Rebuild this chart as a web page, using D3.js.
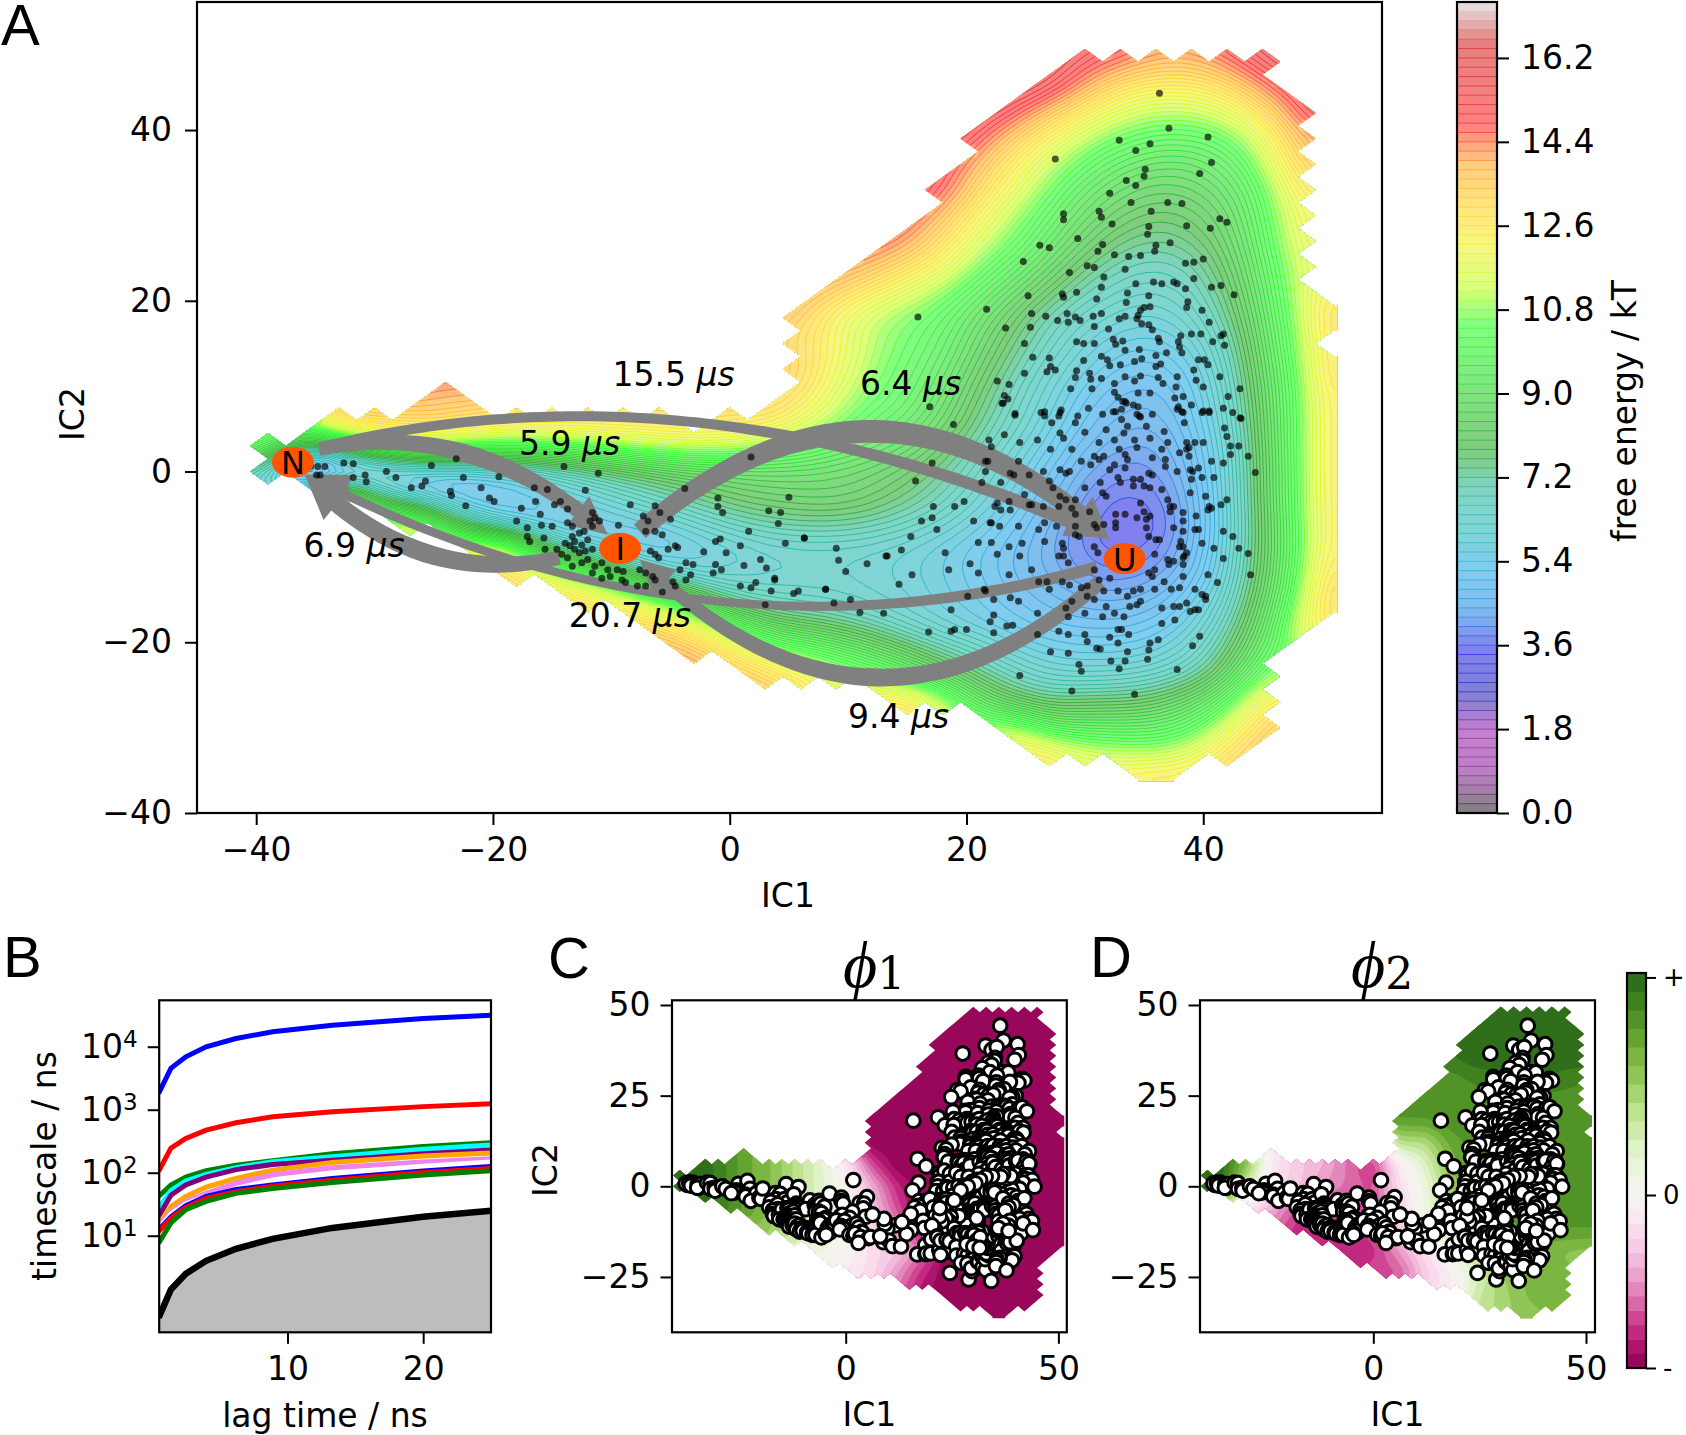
<!DOCTYPE html>
<html>
<head>
<meta charset="utf-8">
<script src="https://cdn.jsdelivr.net/npm/d3@7"></script>
<style>
  body { margin: 0; background: #fff; }
  text { font-family: "DejaVu Sans", sans-serif; fill: #000; }
  .axis path, .axis line { stroke: #000; stroke-width: 2; }
  .axis text { font-size: 33px; }
  .letter { font-family: "Liberation Sans", sans-serif; font-size: 58px; }
</style>
</head>
<body>
<svg id="fig" width="1686" height="1435"></svg>
<script>
// free energy (kT), 3 unit bins, rows from IC2=51 down to IC2=-36
const feStartX = [36,30,27,24,21,21,18,18,15,12,9,6,6,6,-24,-33,-39,-39,-33,-27,-21,-18,-12,-6,-3,3,15,24,27,36];
const feRows = [
  [],
  [15,14.7,14,14,14.6,15.5],
  [15.5,14.2,12.8,12.4,12.4,13,14.5],
  [15,13.6,12.5,11.4,11,11,11.5,12.8,15],
  [15,13.5,12.3,11,10.4,10,10,10.3,11.5,14],
  [14,12.5,11.2,10.2,9.4,9,9,9.6,10.8,13.5],
  [15,13.3,11.8,10.5,9.4,8.7,8.4,8.5,9,10.2,12.5],
  [14,12.2,11,9.9,8.8,8.2,7.8,8,8.6,10,12],
  [14.5,13,11.5,10.5,9.3,8.3,7.6,7.3,7.6,8.3,9.8,11.8],
  [14,13,12,10.6,9.6,8.6,7.6,7,6.8,7,8,9.5,11.5],
  [13.5,12.5,11.5,10.8,9.7,8.8,7.8,7,6.5,6.3,6.7,7.6,9.3,11.2],
  [13.5,12,11,10.6,10,9,8,7,6.4,6,5.9,6.3,7.3,9,11,13.5],
  [13,12.3,11,10.4,9.8,8.6,7.6,6.7,6,5.5,5.4,5.8,6.9,8.8,10.8],
  [13.5,12,10.8,10.2,9.4,8.2,7.2,6.3,5.6,5.1,5,5.4,6.6,8.6,10.5,13.5],
  [14,null,null,null,null,null,null,null,null,null,13,11.5,10.5,10,9,7.8,6.8,6,5.2,4.7,4.6,5.2,6.4,8.4,10.4,13],
  [13.5,13.5,13.5,13.5,13,13,13,13,13,13,null,13,13,12,10.8,10,9.6,8.6,7.5,6.6,5.8,4.9,4.5,4.4,5,6.2,8.3,10.4,13],
  [10.5,7,8.5,10,11,11,10.5,10.3,10.3,10.5,11,11.3,11.5,11.4,10.8,10.4,9.8,9.3,8.8,8,7,6.2,5.4,4.6,4.2,4.1,4.8,6,8.2,10.4,13],
  [6,1.5,3.2,4.2,4.8,4.9,5.2,5.8,6.4,7,7.5,8,8.3,8.5,8.7,8.7,8.6,8.4,8,7.4,6.6,5.8,5,4.2,3.8,3.9,4.6,5.9,8.1,10.4,13],
  [12,7.5,5.5,4.9,4.8,5,5.5,6,6.5,7,7.5,8,8.2,8.3,8.4,8.1,7.6,7,6.2,5.5,4.7,3.9,3.5,3.6,4.4,5.9,8.1,10.4,13],
  [12.5,8.5,6,5.1,5,5.1,5.4,5.8,6.3,6.8,7.2,7.4,7.4,7.2,6.8,6.3,5.7,5.1,4.4,3.7,3.2,3.4,4.3,5.8,8,10.3,13],
  [13,11,7,6,5.2,5,5.4,5.8,6.1,6.2,6.2,6.1,5.9,5.6,5.2,4.8,4.2,3.7,3.4,3.6,4.4,5.9,8,10.2,13],
  [13,11.5,10,8,6.5,5.8,5.9,6.1,6.2,6.2,6.1,5.9,5.6,5.2,4.8,4.3,3.9,3.8,4,4.7,6,8.1,10.3,13.5],
  [13,12,10.5,8.5,7,6.6,6.5,6.4,6.2,6,5.7,5.4,5,4.7,4.4,4.3,4.6,5.2,6.4,8.4,10.6,14],
  [13.5,12,10,8.5,8,7.6,7,6.4,5.9,5.6,5.3,5,4.9,4.9,5.1,5.7,6.9,8.8,11.5],
  [14,13,11,10.5,9.8,9,8,7.2,6.6,6,5.6,5.5,5.5,5.7,6.3,7.5,9.5],
  [13.5,12.5,11.5,10.8,9.8,8.6,7.6,6.8,6.3,6.2,6.3,6.5,7,8.2,10.8],
  [13,11.5,9,8,7.4,7.8,7.7,8,8.8,10,12.5],
  [11.5,9.5,9.5,9.5,9.5,10,11.5,13.5],
  [12.5,11.5,11.2,11,11.5,13],
  [13]
];

// eigenvector values x10, 6 unit bins, rows from IC2=54 down to IC2=-36, columns IC1=-42..54
const n = null;
const phi1Rows = [
  [n,n,n,n,n,n,n,n,n,-10,-10,-10,-10,-10,-10,-10,-10],
  [n,n,n,n,n,n,n,n,n,-10,-10,-10,-10,-10,-10,-10,-10],
  [n,n,n,n,n,n,n,n,n,-10,-10,-10,-10,-10,-10,-10,-10],
  [n,n,n,n,n,n,n,n,n,-10,-10,-10,-10,-10,-10,-10,-10],
  [n,n,n,n,n,n,n,n,n,-10,-10,-10,-10,-10,-10,-10,-10],
  [n,n,n,n,n,n,n,n,-10,-10,-10,-10,-10,-10,-10,-10,-10],
  [n,n,n,n,n,n,n,n,-10,-10,-10,-10,-10,-10,-10,-10,-10],
  [n,n,n,n,n,n,n,n,-10,-10,-10,-10,-10,-10,-10,-10,-10],
  [10,10,9,7,6,4,2,-1,-7,-10,-10,-10,-10,-10,-10,-10,-10],
  [10,10,9,7,6,4,2,0,-4,-8,-10,-10,-10,-10,-10,-10,-10],
  [10,10,9,7.5,6,4,2,0,-3,-7,-10,-10,-10,-10,-10,-10,-10],
  [n,n,n,n,5,3,2,0,-2,-5,-9,-10,-10,-10,-10,-10,-10],
  [n,n,n,n,n,n,1,0,-2,-3,-6,-10,-10,-10,-10,-10,-10],
  [n,n,n,n,n,n,n,-1,-2,-5,-8,-10,-10,-10,-10,-10,-10],
  [n,n,n,n,n,n,n,n,-3,-6,-9,-10,-10,-10,-10,-10,-10],
  [n,n,n,n,n,n,n,n,n,n,n,-10,-10,-10,-10,-10,-10]
];
const phi2Rows = [
  [n,n,n,n,n,n,n,n,n,10,10,10,10,10,10,10,10],
  [n,n,n,n,n,n,n,n,n,10,10,10,10,10,10,10,10],
  [n,n,n,n,n,n,n,n,n,10,10,10,10,10,10,10,10],
  [n,n,n,n,n,n,n,n,n,n,9,10,10,10,10,10,10],
  [n,n,n,n,n,n,n,n,n,8,8,8.5,9,9,9,8.5,8],
  [n,n,n,n,n,n,n,n,8,8,8,8,8,8,8,8,8],
  [n,n,n,n,n,n,n,n,7.5,7.5,8,8,8,8,8,8,8],
  [n,n,n,n,n,n,n,n,4,4,7,8,8,8,8,8,8],
  [10,10,6,-1,-3,-4,-6,-8,-1,2,6,8,8,8,8,8,8],
  [10,10,3,-2,-3,-5,-6,-7,-2,1,5,7,8,8,8,8,8],
  [n,n,-1,-4,-7,-7,-7,-7,-3,1,4,7,8,8,8,8,8],
  [n,n,n,n,-8,-8,-8,-7,-3,0,3,6,7,7.5,7.5,7.5,7.5],
  [n,n,n,n,n,n,-8,-8,-5,-2,1,4,6,6.5,6,5.5,5.5],
  [n,n,n,n,n,n,n,-7,-7,-3,-1,2,5,6,6,6,6],
  [n,n,n,n,n,n,n,n,n,-2,-1,3,4.5,6,6,6,6],
  [n,n,n,n,n,n,n,n,n,n,n,n,4.5,5.5,6,6,6]
];

// nipy_spectral control colours, seen through alpha 0.5
const spectralStops = [[0,0,0],[.4667,0,.5333],[.5333,0,.6],[0,0,.6667],[0,0,.8667],[0,.4667,.8667],[0,.6,.8667],
  [0,.6667,.6667],[0,.6667,.5333],[0,.6,0],[0,.7333,0],[0,.8667,0],[0,1,0],[.7333,1,0],[.9333,.9333,0],
  [1,.8,0],[1,.6,0],[1,0,0],[.8667,0,0],[.8,0,0],[.8,.8,.8]];
const feMax = 17.4;
const feStep = 0.2;
const feTicks = [0,1.8,3.6,5.4,7.2,9,10.8,12.6,14.4,16.2];

// metastable states (IC1, IC2)
const stateNames = ['N','I','U'];
const stateX = [-36.9,-9.25,33.36];
const stateY = [1.1,-9,-10.2];

// flux arrows: start, control, end in IC units, width along the arrow in px, head size in px
const fluxArrows = [
  {from:[-34.7,2.8], ctrl:[-2.5,13.7], to:[31.7,-7.7], w:[10,10,13], head:[36,16]},
  {from:[-34.7,2.6], ctrl:[-21.5,6.4], to:[-10.3,-7.4], w:[13,18,14], head:[38,18]},
  {from:[-7.6,-7], ctrl:[12.3,16.9], to:[32.1,-8], w:[18,23,18], head:[38,22]},
  {from:[-14.4,-10.1], ctrl:[-26.4,-13.8], to:[-35.9,-.35], w:[14,19,17], head:[42,21]},
  {from:[31,-11.2], ctrl:[-2.5,-24.2], to:[-35.9,-.35], w:[12,8,9], head:[42,21]},
  {from:[31.3,-12.9], ctrl:[11.8,-36.6], to:[-7.6,-10.3], w:[15,18,12], head:[34,17]}
];
const fluxLabels = ['15.5','6.4','5.9','6.9','20.7','9.4'];
const fluxLabelX = [-9.9,11,-17.8,-36,-13.6,10];
const fluxLabelY = [10,9,1.9,-10,-18.2,-30];

// cluster centres (IC1, IC2)
const centres = [
[36.3,44.3],[37.1,40.2],[40.4,39.2],[32.9,38.8],[34.3,37.6],[35.5,38.4],[27.5,36.6],[40.7,36.2],[35.1,35.4],[35,34.6],[33.5,34.1],[34.3,33.5],[39.7,34.9],[32.1,32.6],[33.9,31.5],[37,31.5],[38.2,31.4],[35.6,30.5],[28.2,30.2],[28.2,29.5],[31.2,30.5],[31.4,29.8],[32.3,29],[35.4,28.7],[41.4,29.6],[42,29.2],[40.6,28.5],[38.6,28.8],[35.3,27.8],[29.4,27.3],[31.5,26.6],[26.2,26.5],[27,26.2],[31.1,25.8],[37.2,26.8],[36,26.5],[35.9,25.8],[32.5,25.4],[33.7,25.2],[34.7,25.3],[24.8,24.6],[40,24.9],[39.2,24.5],[38.5,24.4],[30.2,24.1],[30.8,23.9],[33.4,23.7],[28.7,23.3],[31.6,22.8],[39.2,22.6],[34.3,22],[35.8,22.2],[36.5,22],[37.5,22.2],[37.8,22],[38.5,21.4],[31.4,21.6],[40.7,21.6],[41.5,21.8],[42.6,20.7],[29.3,21],[28.1,20.8],[28.2,20.4],[25.2,20.6],[31,20.2],[33.6,20.9],[35.4,20.6],[33.5,19.8],[38.7,19.9],[38.6,19.2],[35,19.2],[35.5,19.3],[34.7,18.9],[34.5,18.3],[39.9,18.9],[21.7,19],[15.9,18.1],[25.5,18.5],[26.7,18.2],[28.5,18.5],[29.2,18.1],[27.7,17.7],[28.6,17.5],[29.6,17.7],[30.7,18.2],[31.4,18.5],[32.9,17.9],[33.4,18.2],[34.4,17.9],[34.8,17.3],[40.5,17.5],[23.3,16.8],[25.4,16.9],[30.8,17],[32,16.7],[35.4,17.2],[35.7,16.6],[38.1,15.9],[39,16.1],[39.8,16.1],[41.5,15.9],[41.7,16.1],[36.2,15.6],[36.3,15.2],[37.9,15.2],[38,14.6],[40.8,15.2],[41.8,14.8],[24.9,15],[29.3,15.2],[29.9,15],[30.8,15],[32.4,15.5],[32.6,14.9],[33.2,15.3],[33.4,14.2],[34.6,14.3],[36,13.6],[36.9,13.9],[38.2,13.9],[25.6,13.4],[27,13.3],[29.9,13],[31.4,13.5],[31.9,13.1],[32.1,12.4],[34.2,12.9],[34.8,13.2],[39.6,13.1],[40.1,13.1],[40.4,12.5],[27.1,12.3],[27.5,11.9],[26.8,11.7],[24.9,11.5],[29.3,11.8],[30.4,11.5],[33,12.5],[36,12.3],[36.4,12.6],[39.2,11.9],[29.2,11],[30.5,10.8],[31.4,10.9],[32.5,10.3],[33.4,11.1],[34.2,10.6],[34.7,11.2],[36.2,11],[36.6,10.3],[37.8,11.1],[39.4,10.7],[41.4,11.1],[40,9.9],[37.7,9.9],[22.6,10.6],[23.6,10.2],[28.8,9.7],[30.6,9.7],[32.5,9.3],[34.5,9.2],[35.5,9.2],[43.1,9.7],[42.1,8.8],[23.5,8.5],[23.2,8.9],[23,8],[16.9,7.6],[24.1,6.6],[26.6,7],[28,7.2],[30.3,7.4],[32.8,8.7],[33.2,8.2],[33.5,8],[32.4,7],[34.5,7.6],[37.6,8.6],[38.3,8.8],[37.9,7.6],[39,7.8],[38.2,7],[39.9,6.9],[40.5,6.9],[41.7,7.4],[43.2,6.2],[34.7,6.4],
[18.9,5.5],[23.1,8],[24.1,6.8],[26.3,6.9],[26.6,6.5],[27.2,5.7],[27.9,6.9],[27.8,6.5],[29.4,6.5],[30,4.6],[27.9,4.5],[28.2,3.9],[29.2,5.7],[31.5,6.7],[32.6,7],[33.1,7.3],[33.4,8.2],[34.1,7.8],[35.7,6.7],[34.4,6.7],[33.1,6.1],[33.6,5.3],[31.8,4.9],[32.5,3.7],[33.3,4.5],[31.2,3.4],[34.2,3.7],[35.5,3.9],[34.6,6.5],[35.2,5.3],[36.7,4.7],[37.8,7.3],[38.3,6.9],[38.4,5.7],[40,7.1],[40.5,7.1],[42.5,6.9],[41.8,5.1],[42,4.1],[43.1,6.3],[38.6,3.4],[39.3,3.4],[40,3.4],[38.6,2.6],[38.8,1.8],[42.3,3],[43,3],[42.3,2],[43.8,1.8],[40.7,1.2],[41.7,1],[44.4,-.1],[21.9,3.7],[22.1,2.9],[23.2,4.3],[24.5,3.4],[21.6,1.2],[21.8,1.2],[21.6,0],[24.4,1.2],[26,3.7],[27.1,2.6],[28.9,2.6],[29.7,1.2],[30.8,1.8],[31.2,1.4],[32.5,.8],[33.4,2],[33.6,1.4],[32.1,.2],[33.4,.4],[35.7,1.6],[36.8,1.4],[36.8,.6],[35.4,-.2],[35.7,-.4],[37.8,0],[38.9,.2],[39.1,0],[39.6,.4],[39.9,-.7],[40.9,-.7],[39,-.9],[17.1,1],[15.7,-1.1],[21.3,-1.3],[22.9,-1.3],[23.7,-.2],[24,-.4],[25.3,-.4],[26.5,0],[24.9,-2.7],[27.9,.2],[28.4,-.2],[27.3,-1.9],[27.9,-2.9],[28.4,-3.3],[29.2,-3.3],[30,-1.9],[31.3,-1.3],[31.5,-2.5],[31.8,-2.9],[32.8,-.7],[33,-1.3],[34.1,-.9],[34.1,-1.7],[34.7,-.9],[35.5,-1.9],[36.5,-2.1],[38.9,-2.5],[40.2,-2.9],[40.5,-4.1],[40.4,-4.5],[40.7,-4.3],[41.5,-3.9],[42,-3.3],[17.2,-4.1],[19,-4.1],[19.8,-3.5],[22.6,-3.7],[22.4,-4.1],[22.9,-4.5],[23.6,-3.5],[23.7,-4.5],[25.3,-3.9],[26.5,-4.1],[27.8,-4.1],[17.1,-5.4],[16.2,-5.8],[17.5,-6.8],[20.6,-5.8],[22,-6],[22.8,-6.4],[24.4,-6.4],[26.1,-6.8],[26.6,-6],[27.6,-6.4],[28.9,-4.3],[29.2,-5],[29.2,-6.4],[29.2,-7.4],[29.5,-7.6],[30.4,-4.7],[30.8,-6.2],[31,-6.6],[31.6,-6.2],[32.6,-5],[33.4,-5],[32.6,-6],[32.6,-6.6],[34.4,-5.4],[35.5,-5.2],[34.7,-3.7],[35,-4.7],[35.2,-5.6],[35.2,-6.6],[35.4,-7.6],[37.2,-4.1],[37.2,-4.7],[37.5,-4.1],[38.3,-7],[39.6,-6.8],[39.3,-6.8],[38.1,-8.2],[38.3,-8.8],[36.3,-8],[36,-8],[41.7,-7],[42.5,-7.6],[43,-9],[39.9,-8.4],[40.9,-9],[43.8,-9.6],[28.1,-8.4],[28.2,-9],[27.8,-9.9],[28.2,-9.9],[28.6,-10.7],[26.6,-8.2],[24.7,-8.4],[24.5,-9.9],[23.6,-8.8],[23.6,-12.1],[25.5,-11.5],[22.6,-9.7],[21,-8.3],[22.1,-8.3],[21,-11.9],[18.2,-9.5],[18.5,-11.5],[20.3,-10.8],[14.5,-9.2],[13.3,-9.9],[11.6,-10.8],[9.8,-11.7],[9.2,-10.4],[9,-9],[6.3,-7.8],[15.3,-7.6],[15.4,-12.1],[14.3,-13.2],[8.1,-13.8],[8.8,-15.4],[10.2,-15],[11,-16.5],[13,-16.6],[18.7,-16.2],[16.8,-18.8],[18.7,-18.7],[19,-18.5],[20,-18.5],[22.3,-16.8],[22,-17.6],[23.4,-18.1],[23.9,-18],[22.3,-18.9],[20.1,-14.6],[21.5,-13.8],[21.6,-14],[22.3,-15],[23.7,-14.8],[24.4,-15.2],[26.1,-12.9],[26.8,-12.9],[27,-13.8],[28.1,-12.9],[26,-16.6],[26,-19.1],[28.6,-17],[28.7,-13.3],[29.7,-13.6],[28.9,-15.2],[30.2,-14.6],[27.8,-18.7],[28.6,-19.1],[30,-19.1],[30.2,-19.9],[27.1,-21.1],[28.6,-21.3],[24.5,-23.9],[28.9,-25.7],[29.7,-23.4],[29.5,-22.6],[31,-20.7],[31.3,-20.8],[32.2,-22.2],[33.4,-22.2],[33.6,-21.1],[32.9,-23.1],[34.2,-26.1],[32.1,-19.4],[32.8,-20.1],[33.7,-19.1],[32.8,-18.5],[33.1,-18.5],[33.3,-17],[32.5,-16.6],[31.8,-15.8],[33.8,-15.8],[34.4,-15.6],[34.7,-15.2],[32.8,-14],[33.6,-14.6],[34.1,-14],[34.7,-13.8],[35.9,-13.8],[35.4,-11.9],[35.7,-12.3],[35.9,-9.7],[37.1,-10.9],[37.5,-10.5],[38.4,-9.9],[38.3,-10.1],[38,-8.8],[36.7,-12.9],[37.3,-13.8],[38,-13.6],[39.3,-13.8],[40.2,-14.6],[39.9,-14.4],[39.3,-16.2],[39.6,-16.2],[38.9,-16.4],[36.5,-16],[37.5,-15.8],[37.6,-17.4],[36.5,-17.8],[39.7,-19.3],[39.1,-20.4],[36.2,-19.7],[35.5,-20.1],[35.4,-20.9],[35.3,-22],[37.8,-23.2],[40.4,-12.1],[41.2,-13],[41.7,-10.2],[44,-12.1],[32.1,-12.5],[30.8,-11.5],[31.1,-9.5],[30.8,-8.8],
[38,2.2],[38.8,2.8],[37,3.4],[36.5,2.6],[34.4,2.8],[32.9,2.6],[31.6,1.8],[30.5,.8],[28.7,0],[27,-1.1],[25.5,-3.9],[22.1,-6],[35,-1.7],[37,-3.3],[38.3,-4.8],[39.4,-5.2],[38.3,-5.8],[37.5,-6.6],[38.6,-9.5],[38.3,-10.9],[37,-10.3],[35.9,-11.5],[31.2,-12.7],[30.2,-13.4],[28.4,-16],[30.8,-15],[31.6,-14],[30,-16.6],[31.5,-17],[38,-15.8],[38.6,-15.4],[40.2,-15],[38.3,-12.3],
[-37.3,.4],[-37.6,.8],[-36.8,1],[-36,1],[-35.4,.6],[-36.4,.2],[-34.8,.6],[-34.2,.6],[-34.6,-.4],[-34.9,-.4],[-32.6,1],[-31.8,.9],[-31.8,-.7],[-30.8,-.4],[-30.7,-1.2],[-29,0],[-28.2,-.7],[-25.2,.7],[-23.1,1.5],[-25.7,-1.1],[-26,-1.7],[-26.9,-1.9],[-22.5,-.7],[-23.6,-2.3],[-23.5,-2.8],[-21,-1.9],[-22.3,-4],[-20.3,-3.1],[-19.9,-3.5],[-19.5,-.6],[-14,.6],[-11.1,-.2],[-16.5,-1.9],[-15.4,-2.1],[-16.4,-3.5],[-17.6,-4.3],[-18,-5.8],[-14.8,-3.9],[-14.3,-3.5],[-13.7,-4.4],[-12.2,-2.2],[-8.4,-3.9],[-16,-5],[-15.9,-6.3],[-17.1,-6.6],[-17.1,-7.6],[-16.9,-8.2],[-15.7,-7.8],[-15,-6.4],[-11.6,-4.8],[-11.4,-5.4],[-11.8,-5.8],[-11,-5.8],[-11.6,-6.4],[-13.7,-6],[-13.3,-6.4],[-9.4,-6.3],[-15.6,-9.1],[-14.6,-9.1],[-13.9,-8.4],[-13.3,-7.6],[-12.7,-7.2],[-12.3,-7],[-13.5,-8.7],[-13.1,-8.2],[-12.5,-8.6],[-12,-8],[-14.2,-9.7],[-13.7,-10.1],[-13.1,-9.1],[-12.7,-9.5],[-12.2,-9.3],[-11.6,-9.1],[-13.3,-11.1],[-12.5,-10.7],[-12,-10.3],[-11.4,-11.1],[-10.8,-10.7],[-11.6,-11.9],[-10.8,-12.5],[-10.3,-11.5],[-9.5,-11.5],[-9,-11.7],[-10.1,-12.3],[-9.1,-12.7],[-8.8,-13],[-7.8,-13.4],[-7.6,-11.5],[-7.1,-11.9],[-6.5,-12.3],[-6.3,-12.7],[-7.1,-13.4],[-5.7,-14.1],[-7.3,-5.2],[-6.9,-5.8],[-6.3,-4],[-5.9,-4.8],[-5,-5.6],[-7.1,-7],[-6.3,-7],[-5.7,-7.4],[-4.6,-8.7],[-4.4,-8.9],[-5.2,-9.1],[-6.7,-9.3],[-6.3,-9.7],[-6,-10.1],[-4.2,-11.5],[-3.7,-10.7],[-3.1,-10.9],[-3.7,-12.7],[-3.3,-12.1],[-4.8,-12.9],[-4.6,-13.4],[-3.8,-2],[1.8,1.7],[-1,-3.1],[-1,-4.1],[-.6,-4.8],[5,-3],[3.3,-4.6],[4.3,-4.8],[4.1,-6.1],[1.6,-7],[4.7,-8.4],[6.3,-7.8],[-1.2,-8.2],[-.8,-7.9],[.9,-8.7],[-2.2,-9.4],[-.3,-9.5],[1.2,-11],[-1.2,-10.9],[-.7,-11.5],[-1.4,-11.9],[2.6,-10.3],[3.1,-11.3],[3.8,-12.5],[3.8,-12.7],[.9,-13.4],[1.8,-13.6],[2.2,-13],[3.5,-14],[5.4,-14.3],[5.8,-14],[8.1,-13.8],[3,-15.6],[13.2,-9.9]
];

// panel B implied timescales (ns)
const lagTimes = [.5,1.4,2.5,4,6.2,8.9,13.3,20,25];
const timescaleColors = ['blue','red','green','cyan','purple','orange','violet','white','blue','red','green'];
const timescales = [
  [1820,4530,6900,10000,13500,17300,22000,28000,31500],
  [105,245,350,475,620,775,930,1120,1240],
  [42,64,85,108,132,155,200,260,300],
  [27,52,74,94,120,150,180,235,275],
  [20,44,64,85,112,135,158,200,230],
  [15,29,42,59,81,110,145,185,205],
  [14,24,35,47,68,93,120,148,167],
  [13,22,32,42,54,74,97,127,148],
  [12.3,20,30,42,54,64,81,107,126],
  [11.6,19,28,39,50,61,76,101,117],
  [7.6,16,26,35,47,56,70,92,108]
];

const svg = d3.select('#fig');

function spectral(t) {
  const p = Math.max(0, Math.min(1, t)) * (spectralStops.length - 1);
  const i = Math.min(Math.floor(p), spectralStops.length - 2);
  const f = p - i;
  return spectralStops[i].map((c, k) => c + (spectralStops[i + 1][k] - c) * f);
}
const feBand = v => {
  const c = spectral((v + feStep / 2) / feMax);
  return `rgb(${c.map(d => Math.round((d * .5 + .5) * 255)).join(',')})`;
};
const feLine = v => {
  const c = spectral((v + feStep / 2) / feMax);
  return `rgba(${c.map(d => Math.round(d * 255)).join(',')},0.6)`;
};

// spread values into the empty bins so that upsampling has something to read
function fillEmpty(rows, rise) {
  const out = rows.map(r => r.slice());
  for (let pass = 0; pass < 60; pass++) {
    const prev = out.map(r => r.slice());
    out.forEach((r, j) => r.forEach((v, i) => {
      if (v != null) return;
      const near = [[0,1],[0,-1],[1,0],[-1,0]].map(([a, b]) => (prev[j + a] || [])[i + b]).filter(d => d != null);
      if (near.length) r[i] = d3.mean(near) + rise;
    }));
  }
  return out;
}
function bilinear(rows, u, v) {
  const j = Math.min(Math.floor(v), rows.length - 2), i = Math.min(Math.floor(u), rows[0].length - 2);
  const a = u - i, b = v - j;
  return (rows[j][i] * (1 - a) + rows[j][i + 1] * a) * (1 - b) + (rows[j + 1][i] * (1 - a) + rows[j + 1][i + 1] * a) * b;
}

const feCols = d3.range(-42, 52, 3);
const feY = d3.range(51, -37, -3);
const feCoarse = feRows.map((r, j) => feCols.map((x, i) => {
  const k = (x - feStartX[j]) / 3;
  return k >= 0 && k < r.length ? r[k] : null;
}));
const feFilled = fillEmpty(feCoarse, .6);

const up = 4;
const fineW = (feCols.length - 1) * up + 1;
const fineH = (feY.length - 1) * up + 1;
const fineStep = 3 / up;
const feOpen = new Float64Array(fineW * fineH);
const feMask = new Uint8Array(fineW * fineH);

// jagged outline of the sampled region: full bins plus diamond teeth at the rim
function insideRegion(u, v) {
  const i = Math.min(Math.floor(u), feCols.length - 2), j = Math.min(Math.floor(v), feY.length - 2);
  const corners = [[i, j], [i + 1, j], [i, j + 1], [i + 1, j + 1]];
  const full = corners.filter(([a, b]) => feCoarse[b][a] != null);
  if (full.length === 4) return true;
  if (full.length === 3) {
    const [a, b] = corners.find(([p, q]) => feCoarse[q][p] == null);
    return Math.abs(a - u) + Math.abs(b - v) >= .3;
  }
  return full.some(([a, b]) => Math.abs(a - u) + Math.abs(b - v) <= .6);
}
for (let j = 0; j < fineH; j++) for (let i = 0; i < fineW; i++) {
  const u = i / up, v = j / up;
  feOpen[j * fineW + i] = bilinear(feFilled, u, v);
  feMask[j * fineW + i] = insideRegion(u, v) ? 1 : 0;
}
d3.blur2({data: feOpen, width: fineW}, 1.5, 1.5);
const masked = src => Array.from(src, (d, k) => feMask[k] ? d : NaN);

function phiField(rows) {
  const filled = fillEmpty(rows, 0);
  const data = new Float64Array(fineW * fineH);
  for (let j = 0; j < fineH; j++) for (let i = 0; i < fineW; i++) {
    const x = -42 + i * fineStep, y = 51 - j * fineStep;
    data[j * fineW + i] = bilinear(filled, (x + 42) / 6, Math.min(15, (54 - y) / 6)) / 10;
  }
  d3.blur2({data, width: fineW}, 1.2, 1.2);
  return masked(data);
}

function gridPath(x, y) {
  return d3.geoPath(d3.geoTransform({
    point(a, b) { this.stream.point(x(-42 + (a - .5) * fineStep), y(51 - (b - .5) * fineStep)); }
  }));
}

function frame(g, x0, y0, w, h) {
  g.append('rect').attr('x', x0).attr('y', y0).attr('width', w).attr('height', h)
    .attr('fill', 'none').attr('stroke', '#000').attr('stroke-width', 2.2);
}

// ---- panel A
const xA = d3.scaleLinear().domain([-45, 55.1]).range([197, 1382]);
const yA = d3.scaleLinear().domain([-40, 55]).range([813, 2]);
const gA = svg.append('g');
const fePath = gridPath(xA, yA);
const feMasked = masked(feOpen);
const feThresholds = d3.range(0, 87).map(i => i * feStep);
const feContours = d3.contours().size([fineW, fineH]).thresholds(feThresholds);
const bands = feContours(feMasked);

svg.append('clipPath').attr('id', 'feClip').append('path').attr('d', fePath(bands[0]));
gA.append('g').selectAll('path').data(bands).join('path')
  .attr('d', fePath).attr('fill', d => feBand(d.value));
gA.append('g').attr('clip-path', 'url(#feClip)').selectAll('path')
  .data(feContours(Array.from(feOpen)).slice(1)).join('path')
  .attr('d', fePath).attr('fill', 'none').attr('stroke', d => feLine(d.value)).attr('stroke-width', 1);

// tapered curved arrow along a quadratic
function arrowPath(a) {
  const p0 = [xA(a.from[0]), yA(a.from[1])], c = [xA(a.ctrl[0]), yA(a.ctrl[1])], p2 = [xA(a.to[0]), yA(a.to[1])];
  const at = t => [0, 1].map(k => (1 - t) * (1 - t) * p0[k] + 2 * t * (1 - t) * c[k] + t * t * p2[k]);
  const tan = t => [0, 1].map(k => 2 * (1 - t) * (c[k] - p0[k]) + 2 * t * (p2[k] - c[k]));
  const ts = d3.range(0, 201).map(i => i / 200);
  let stop = 1, run = 0;
  for (let i = 199; i >= 0; i--) {
    const q = at(ts[i]), r = at(ts[i + 1]);
    run += Math.hypot(r[0] - q[0], r[1] - q[1]);
    if (run >= a.head[0]) { stop = ts[i]; break; }
  }
  const width = d3.scaleLinear().domain([0, .5, 1]).range(a.w);
  const left = [], right = [];
  d3.range(0, 81).forEach(i => {
    const t = stop * i / 80, q = at(t), d = tan(t), m = Math.hypot(d[0], d[1]);
    const nx = -d[1] / m, ny = d[0] / m, w = width(t) / 2;
    left.push([q[0] + nx * w, q[1] + ny * w]);
    right.push([q[0] - nx * w, q[1] - ny * w]);
  });
  const q = at(stop), d = tan(stop), m = Math.hypot(d[0], d[1]);
  const nx = -d[1] / m, ny = d[0] / m;
  const barbs = [[q[0] + nx * a.head[1], q[1] + ny * a.head[1]], p2, [q[0] - nx * a.head[1], q[1] - ny * a.head[1]]];
  return d3.line()(left.concat(barbs, right.reverse())) + 'Z';
}
gA.append('g').selectAll('path').data(fluxArrows).join('path')
  .attr('d', arrowPath).attr('fill', '#808080');

gA.append('g').selectAll('circle').data(centres).join('circle')
  .attr('cx', d => xA(d[0])).attr('cy', d => yA(d[1])).attr('r', 3.5)
  .attr('fill', '#000').attr('fill-opacity', .66);

gA.append('g').selectAll('ellipse').data(stateNames).join('ellipse')
  .attr('cx', (d, i) => xA(stateX[i])).attr('cy', (d, i) => yA(stateY[i]))
  .attr('rx', 21).attr('ry', 15.5).attr('fill', '#ff5500');
gA.append('g').selectAll('text').data(stateNames).join('text')
  .attr('x', (d, i) => xA(stateX[i])).attr('y', (d, i) => yA(stateY[i]) + 12)
  .attr('text-anchor', 'middle').style('font-size', '32px').text(d => d);

const labels = gA.append('g').selectAll('text').data(fluxLabels).join('text')
  .attr('x', (d, i) => xA(fluxLabelX[i])).attr('y', (d, i) => yA(fluxLabelY[i])).style('font-size', '33px');
labels.append('tspan').text(d => d + ' ');
labels.append('tspan').attr('font-style', 'italic').text('μ');
labels.append('tspan').attr('font-style', 'italic').text('s');

frame(gA, 197, 2, 1185, 811);
gA.append('g').attr('class', 'axis').attr('transform', 'translate(0,813)')
  .call(d3.axisBottom(xA).tickValues([-40,-20,0,20,40]).tickSize(12).tickPadding(13)).call(g => g.select('.domain').remove());
gA.append('g').attr('class', 'axis').attr('transform', 'translate(197,0)')
  .call(d3.axisLeft(yA).tickValues([-40,-20,0,20,40]).tickSize(12).tickPadding(13)).call(g => g.select('.domain').remove());
gA.append('text').attr('x', 788).attr('y', 907).attr('text-anchor', 'middle').style('font-size', '33px').text('IC1');
gA.append('text').attr('transform', 'translate(84,414) rotate(-90)').attr('text-anchor', 'middle').style('font-size', '33px').text('IC2');

// free energy colour bar
const yBar = d3.scaleLinear().domain([0, feMax]).range([813, 2]);
const gBar = svg.append('g');
gBar.selectAll('rect').data(feThresholds).join('rect')
  .attr('x', 1457).attr('width', 40).attr('y', d => yBar(d + feStep)).attr('height', d => yBar(d) - yBar(d + feStep) + .5)
  .attr('fill', d => feBand(d));
gBar.append('g').selectAll('line').data(feThresholds.slice(1)).join('line')
  .attr('x1', 1457).attr('x2', 1497).attr('y1', d => yBar(d)).attr('y2', d => yBar(d))
  .attr('stroke', d => feLine(d)).attr('stroke-width', .8);
frame(gBar, 1457, 2, 40, 811);
gBar.append('g').attr('class', 'axis').attr('transform', 'translate(1497,0)')
  .call(d3.axisRight(yBar).tickValues(feTicks).tickFormat(d3.format('.1f')).tickSize(12).tickPadding(12))
  .call(g => g.select('.domain').remove());
gBar.append('text').attr('transform', 'translate(1636,411) rotate(-90)').attr('text-anchor', 'middle').style('font-size', '33px').text('free energy / kT');

// ---- panel B
const xB = d3.scaleLinear().domain([.54, 25]).range([159.2, 491]);
const yB = d3.scaleLog().domain([Math.pow(10, -.533), Math.pow(10, 4.737)]).range([1332.3, 1000.3]);
const gB = svg.append('g');
svg.append('clipPath').attr('id', 'clipB').append('rect').attr('x', 159.2).attr('y', 1000.3).attr('width', 331.8).attr('height', 332);
const plotB = gB.append('g').attr('clip-path', 'url(#clipB)');
const lineB = d3.line().x((d, i) => xB(lagTimes[i])).y(d => yB(d));
plotB.append('path').datum(lagTimes)
  .attr('d', d3.area().x(d => xB(d)).y0(1332.3).y1(d => yB(d)))
  .attr('fill', '#bdbdbd');
plotB.append('path').datum(lagTimes).attr('d', lineB).attr('fill', 'none').attr('stroke', '#000').attr('stroke-width', 6.5);
plotB.selectAll('.ts').data(timescales).join('path').attr('class', 'ts')
  .attr('d', lineB).attr('fill', 'none').attr('stroke-width', 5)
  .attr('stroke', (d, i) => timescaleColors[i]);
frame(gB, 159.2, 1000.3, 331.8, 332);
gB.append('g').attr('class', 'axis').attr('transform', 'translate(0,1332.3)')
  .call(d3.axisBottom(xB).tickValues([10, 20]).tickSize(11.5).tickPadding(13)).call(g => g.select('.domain').remove());
const axisLogB = gB.append('g').attr('class', 'axis').attr('transform', 'translate(159.2,0)')
  .call(d3.axisLeft(yB).tickValues([10,100,1000,10000]).tickFormat(() => '').tickSize(11.5).tickPadding(10));
axisLogB.select('.domain').remove();
axisLogB.selectAll('.tick text').each(function(d) {
  const t = d3.select(this);
  t.append('tspan').text('10');
  t.append('tspan').attr('dy', '-.45em').style('font-size', '23px').text(Math.round(Math.log10(d)));
});
gB.append('text').attr('x', 325).attr('y', 1427).attr('text-anchor', 'middle').style('font-size', '33px').text('lag time / ns');
gB.append('text').attr('transform', 'translate(56,1166) rotate(-90)').attr('text-anchor', 'middle').style('font-size', '33px').text('timescale / ns');

// ---- panels C and D
const phiThresholds = d3.range(-1, 1, 2 / 24);
const phiColor = v => d3.interpolatePiYG((v + 1 / 24 + 1) / 2);
const phiContours = d3.contours().size([fineW, fineH]).thresholds(phiThresholds);

function phiPanel(left, right, x0px, rows, showLabel, sub, titleX) {
  const x = d3.scaleLinear().domain([0, 50]).range([x0px, x0px + 212.7]);
  const y = d3.scaleLinear().domain([0, 50]).range([1186.3, 1005]);
  const g = svg.append('g');
  // everything below the first threshold still has to be painted
  const field = phiField(rows).map(d => Number.isNaN(d) ? d : Math.max(-.999, d));
  const path = gridPath(x, y);
  g.append('g').selectAll('path').data(phiContours(field)).join('path')
    .attr('d', path).attr('fill', d => phiColor(d.value));
  g.append('g').selectAll('circle').data(centres).join('circle')
    .attr('cx', d => x(d[0])).attr('cy', d => y(d[1])).attr('r', 6.85)
    .attr('fill', '#fff').attr('stroke', '#000').attr('stroke-width', 3);
  frame(g, left, 1000.3, right - left, 332);
  g.append('g').attr('class', 'axis').attr('transform', 'translate(0,1332.3)')
    .call(d3.axisBottom(x).tickValues([0, 50]).tickSize(11.5).tickPadding(13)).call(s => s.select('.domain').remove());
  g.append('g').attr('class', 'axis').attr('transform', `translate(${left},0)`)
    .call(d3.axisLeft(y).tickValues([-25, 0, 25, 50]).tickSize(11.5).tickPadding(10)).call(s => s.select('.domain').remove());
  g.append('text').attr('x', (left + right) / 2).attr('y', 1426).attr('text-anchor', 'middle').style('font-size', '33px').text('IC1');
  if (showLabel) {
    g.append('text').attr('transform', 'translate(557,1170) rotate(-90)').attr('text-anchor', 'middle').style('font-size', '33px').text('IC2');
  }
  const title = g.append('text').attr('x', titleX).attr('y', 987);
  title.append('tspan').style('font-family', '"Liberation Serif", serif').style('font-style', 'italic').style('font-size', '66px').text('ϕ');
  title.append('tspan').attr('dy', 2).style('font-family', '"DejaVu Serif", serif').style('font-size', '44px').text(sub);
}
phiPanel(672, 1066.8, 845.7, phi1Rows, true, '1', 843);
phiPanel(1200, 1595, 1373.3, phi2Rows, false, '2', 1351);

// shared phi colour bar, zero sits below the middle of the bar
const yPhi = d3.scaleLinear().domain([-1, 0, 1]).range([1368, 1195, 973]);
const gPhi = svg.append('g');
gPhi.selectAll('rect').data(phiThresholds).join('rect')
  .attr('x', 1627).attr('width', 19).attr('y', d => yPhi(d + 2 / 24)).attr('height', d => yPhi(d) - yPhi(d + 2 / 24) + .5)
  .attr('fill', d => phiColor(d));
frame(gPhi, 1627, 973, 19, 395);
gPhi.append('g').attr('class', 'axis').attr('transform', 'translate(1646,0)')
  .call(d3.axisRight(yPhi).tickValues([-1, 0, .98]).tickFormat(d => d < -.5 ? '-' : d > .5 ? '+' : '0').tickSize(10).tickPadding(7))
  .call(s => s.select('.domain').remove())
  .call(s => s.selectAll('text').style('font-size', '26px'));

// panel letters
const letterNames = ['A','B','C','D'];
const letterX = [1, 3, 548, 1090];
const letterY = [45, 977, 978, 977];
svg.append('g').selectAll('text').data(letterNames).join('text').attr('class', 'letter')
  .attr('x', (d, i) => letterX[i]).attr('y', (d, i) => letterY[i]).text(d => d);
</script>
</body>
</html>
